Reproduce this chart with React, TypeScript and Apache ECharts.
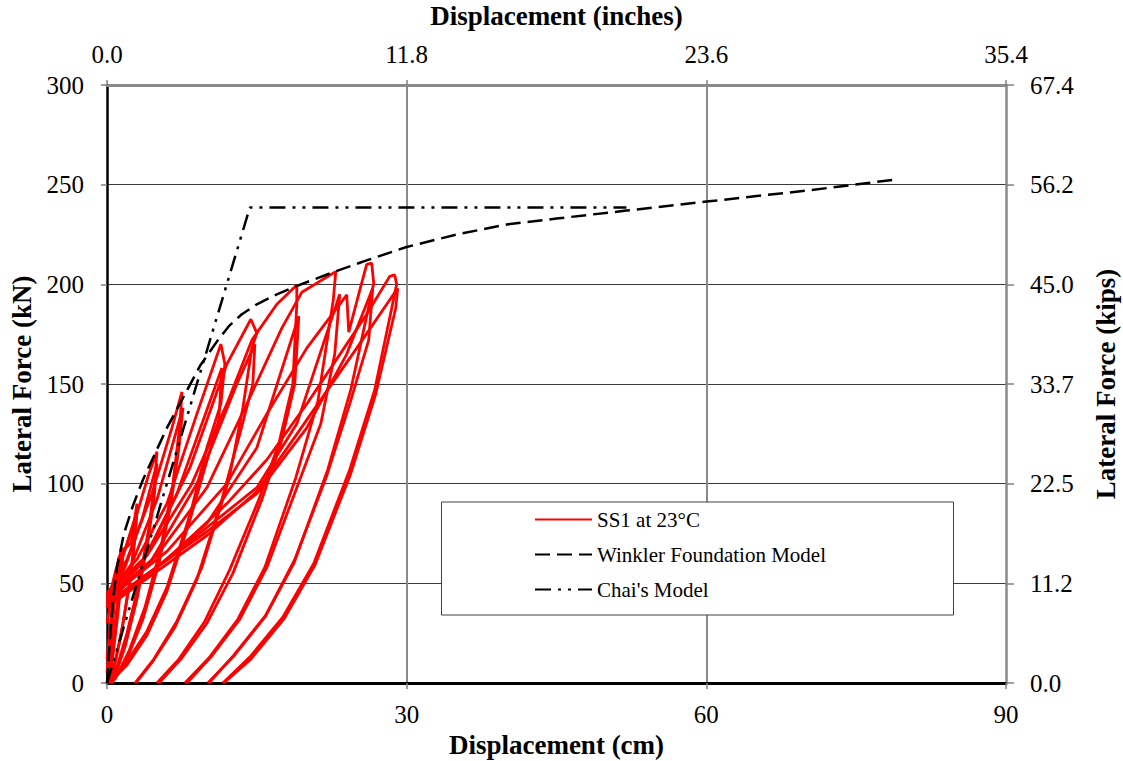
import React, { useEffect, useRef } from "react";
import * as echarts from "echarts";

// ---- Axis ticks ----
const dispTicksCm = [0, 30, 60, 90];
const forceTicksKn = [0, 50, 100, 150, 200, 250, 300];
const CM_PER_INCH = 2.54;
const KN_PER_KIP = 4.448;

// ---- Winkler Foundation Model ----
const winklerDisp = [0, 0.3, 0.6, 1, 1.7, 2.6, 3.6, 4.8, 6, 7.5, 9.3, 11.1, 12.2, 13.5, 15, 17, 18.9, 22.8, 26, 29.9, 35, 40, 45, 52, 60, 70, 78.7];
const winklerForce = [0, 22, 42, 58, 75, 89, 102, 115, 128, 142, 159, 172, 179, 185, 190, 195, 199, 206.4, 212, 218.6, 225, 230, 233, 237, 241.5, 247, 252.4];

// ---- Chai's Model ----
const chaiDisp = [0, 14.3, 52];
const chaiForce = [0, 238.5, 238.5];

// ---- SS1 at 23°C, cyclic test (first quadrant shown), one list per cycle: [cm, kN] ----
const ss1Cycle01 = [[0, 5], [0.4, 30], [0.8, 46], [0.7, 38], [0.4, 18], [0.1, 0]];
const ss1Cycle02 = [[0, 12], [0.5, 38], [1.0, 56], [1.5, 68], [1.4, 58], [1.0, 38], [0.5, 16], [0.2, 0]];
const ss1Cycle03 = [[0, 30], [0.6, 48], [1.2, 63], [1.6, 66], [1.5, 55], [1.1, 35], [0.6, 14], [0.3, 0]];
const ss1Cycle04 = [[0, 38], [0.8, 55], [1.4, 66], [2.4, 70], [3.0, 90], [2.9, 80], [2.4, 55], [1.6, 30], [0.9, 12], [0.4, 0]];
const ss1Cycle05 = [[0, 40], [1.0, 55], [2.0, 70], [3.0, 86], [2.8, 72], [2.2, 48], [1.4, 24], [0.7, 8], [0.4, 0]];
const ss1Cycle06 = [[0, 42], [1.5, 62], [3.0, 85], [4.2, 105], [5.0, 116], [4.8, 102], [4.2, 78], [3.2, 50], [2.0, 25], [1.0, 8], [0.5, 0]];
const ss1Cycle07 = [[0, 40], [1.8, 58], [3.5, 82], [5.0, 110], [4.7, 92], [4.0, 68], [3.0, 42], [1.8, 18], [0.9, 5], [0.5, 0]];
const ss1Cycle08 = [[0, 44], [2.0, 62], [4.5, 95], [6.5, 128], [7.5, 146], [7.3, 130], [6.6, 100], [5.4, 68], [3.8, 38], [2.2, 16], [1.0, 4], [0.4, 0]];
const ss1Cycle09 = [[0, 42], [2.5, 60], [5.0, 92], [7.6, 138], [7.2, 118], [6.4, 90], [5.2, 60], [3.6, 32], [2.0, 12], [0.8, 2], [0.4, 0]];
const ss1Cycle10 = [[0, 45], [3.0, 62], [6.0, 90], [9.0, 135], [11.4, 170], [11.8, 160], [11.4, 140], [10, 118], [8.4, 86], [6, 48], [4, 26], [1.9, 10], [0.1, 0]];
const ss1Cycle11 = [[0, 42], [3.5, 60], [7.0, 95], [11.5, 158], [11.2, 132], [9.8, 108], [8.2, 80], [6, 46], [4, 24], [2, 9], [0.2, 0]];
const ss1Cycle12 = [[0, 44], [4, 64], [8.3, 108], [12, 160], [14.4, 182.5], [15.0, 175.5], [14.5, 168], [13.6, 138], [12.2, 102], [9.5, 58], [7.0, 31], [4.7, 12], [2.8, 0]];
const ss1Cycle13 = [[0, 40], [4.5, 62], [9, 100], [13, 150], [14.8, 170], [14.6, 150], [13.3, 125], [11.5, 92], [9, 52], [6.8, 28], [4.6, 11], [2.9, 0]];
const ss1Cycle14 = [[0, 45], [4, 64], [8.5, 100], [12, 140], [14.5, 172], [17, 190], [19, 199.7], [19, 190], [18.6, 150], [17.2, 120], [15.2, 92], [12.3, 57], [9.8, 31], [7.2, 12], [5.0, 0]];
const ss1Cycle15 = [[0, 38], [5, 58], [10, 80], [15, 118], [19.2, 184], [18.8, 150], [17.4, 120], [15.5, 92], [12.6, 55], [10, 30], [7.4, 12], [5.2, 0]];
const ss1Cycle16 = [[0, 42], [5, 64], [10, 98], [14, 140], [17.5, 178], [19.5, 196], [22.9, 206.4], [22.65, 192], [21.1, 141], [18.9, 103], [15.8, 58], [13.1, 32], [10.2, 12.5], [7.8, 0]];
const ss1Cycle17 = [[0, 38], [5, 58], [10, 78], [15, 98], [19, 130], [23.3, 195], [22.8, 165], [21.4, 130], [19, 98], [16, 58], [13.3, 32], [10.4, 13], [8, 0]];
const ss1Cycle18 = [[0, 42], [6, 66], [12, 100], [16, 135], [20, 168], [24, 194.7], [24.2, 176], [25.3, 197], [26, 210], [26.5, 210.6], [26.7, 200.5], [24.4, 147], [22.1, 107], [18.7, 60], [15.8, 33], [12.6, 13], [10.1, 0]];
const ss1Cycle19 = [[0, 40], [5, 58], [10, 76], [15, 95], [20, 128], [24, 165], [26.6, 198], [26.2, 172], [24.3, 140], [22, 104], [18.8, 62], [15.9, 34], [12.7, 14], [10.2, 0]];
const ss1Cycle20 = [[0, 40], [6, 62], [12, 90], [16, 112], [20, 140], [24, 170], [26, 185], [28.3, 204], [28.8, 204.7], [29, 200], [26.8, 147], [24.3, 107], [20.7, 60], [17.6, 33], [14.3, 13], [11.6, 0]];
const ss1Cycle21 = [[0, 38], [5, 56], [10, 74], [15, 96], [20, 132], [25, 168], [29.1, 198], [28.9, 188], [26.9, 145], [24.4, 105], [20.8, 59], [17.7, 32], [14.4, 12], [11.7, 0]];

const ss1Cycles = [
  ss1Cycle01, ss1Cycle02, ss1Cycle03, ss1Cycle04, ss1Cycle05, ss1Cycle06, ss1Cycle07,
  ss1Cycle08, ss1Cycle09, ss1Cycle10, ss1Cycle11, ss1Cycle12, ss1Cycle13, ss1Cycle14,
  ss1Cycle15, ss1Cycle16, ss1Cycle17, ss1Cycle18, ss1Cycle19, ss1Cycle20, ss1Cycle21,
];

const SS1_NAME = "SS1 at 23°C";
const WINKLER_NAME = "Winkler Foundation Model";
const CHAI_NAME = "Chai's Model";

const FONT = "'Liberation Serif', 'Times New Roman', serif";

export default function App() {
  const ref = useRef<HTMLDivElement>(null);

  useEffect(() => {
    if (!ref.current) return;
    const chart = echarts.init(ref.current, undefined, { renderer: "svg" });

    const titleStyle = { fontFamily: FONT, fontSize: 27, fontWeight: "bold" as const, color: "#000" };
    const labelStyle = { fontFamily: FONT, fontSize: 25, color: "#000" };

    const ss1Series = ss1Cycles.map((cyc) => ({
      type: "line",
      name: SS1_NAME,
      data: cyc,
      showSymbol: false,
      symbol: "none",
      clip: true,
      lineStyle: { color: "#ff0000", width: 2.8 },
      itemStyle: { color: "#ff0000" },
      z: 3,
    }));

    const option: any = {
      animation: false,
      backgroundColor: "#fff",
      textStyle: { fontFamily: FONT },
      grid: { left: 107, right: 117, top: 85, bottom: 78, containLabel: false, outerBoundsMode: "none" },
      legend: {
        data: [SS1_NAME, WINKLER_NAME, CHAI_NAME],
        orient: "vertical",
        left: 529,
        top: 504,
        itemWidth: 57,
        itemHeight: 14,
        itemGap: 14,
        itemStyle: { opacity: 0 },
        lineStyle: { width: 2 },
        textStyle: { fontFamily: FONT, fontSize: 21, color: "#000" },
        z: 60,
        selectedMode: false,
      },
      graphic: [
        {
          type: "rect",
          z: 50,
          shape: { x: 441.5, y: 502, width: 512, height: 113 },
          style: { fill: "#fff", stroke: "#404040", lineWidth: 1 },
        },
      ],
      xAxis: [
        {
          type: "value",
          position: "bottom",
          min: dispTicksCm[0],
          max: dispTicksCm[dispTicksCm.length - 1],
          interval: 30,
          name: "Displacement (cm)",
          nameLocation: "middle",
          nameGap: 47,
          nameTextStyle: titleStyle,
          axisLine: { show: true, onZero: false, lineStyle: { color: "#000", width: 3 } },
          axisTick: { show: true, length: 6, lineStyle: { color: "#808080", width: 1.5 } },
          axisLabel: { ...labelStyle, margin: 19 },
          splitLine: { show: true, showMinLine: false, showMaxLine: false, lineStyle: { color: "#8a8a8a", width: 2 } },
        },
        {
          type: "value",
          position: "top",
          min: dispTicksCm[0],
          max: dispTicksCm[dispTicksCm.length - 1],
          interval: 30,
          name: "Displacement (inches)",
          nameLocation: "middle",
          nameGap: 56,
          nameTextStyle: titleStyle,
          axisLine: { show: true, onZero: false, lineStyle: { color: "#8a8a8a", width: 3 } },
          axisTick: { show: true, length: 5, lineStyle: { color: "#808080", width: 1.5 } },
          axisLabel: { ...labelStyle, margin: 18, formatter: (v: number) => (v / CM_PER_INCH).toFixed(1) },
          splitLine: { show: false },
        },
      ],
      yAxis: [
        {
          type: "value",
          position: "left",
          min: forceTicksKn[0],
          max: forceTicksKn[forceTicksKn.length - 1],
          interval: 50,
          name: "Lateral Force (kN)",
          nameLocation: "middle",
          nameRotate: 90,
          nameGap: 68,
          nameTextStyle: titleStyle,
          axisLine: { show: true, onZero: false, lineStyle: { color: "#000", width: 2.5 } },
          axisTick: { show: true, length: 6, lineStyle: { color: "#808080", width: 1.5 } },
          axisLabel: { ...labelStyle, margin: 23 },
          splitLine: { show: true, showMinLine: false, showMaxLine: false, lineStyle: { color: "#3a3a3a", width: 1.2 } },
        },
        {
          type: "value",
          position: "right",
          min: forceTicksKn[0],
          max: forceTicksKn[forceTicksKn.length - 1],
          interval: 50,
          name: "Lateral Force (kips)",
          nameLocation: "middle",
          nameRotate: 90,
          nameGap: 86,
          nameTextStyle: titleStyle,
          axisLine: { show: true, onZero: false, lineStyle: { color: "#8a8a8a", width: 2.5 } },
          axisTick: { show: true, length: 8, lineStyle: { color: "#808080", width: 1.5 } },
          axisLabel: { ...labelStyle, margin: 24, formatter: (v: number) => (v / KN_PER_KIP).toFixed(1) },
          splitLine: { show: false },
        },
      ],
      series: [
        ...ss1Series,
        {
          type: "line",
          name: WINKLER_NAME,
          data: winklerDisp.map((d, i) => [d, winklerForce[i]]),
          showSymbol: false,
          symbol: "none",
          lineStyle: { color: "#000", width: 2.5, type: [15, 7] },
          itemStyle: { color: "#000" },
          z: 4,
        },
        {
          type: "line",
          name: CHAI_NAME,
          data: chaiDisp.map((d, i) => [d, chaiForce[i]]),
          showSymbol: false,
          symbol: "none",
          lineStyle: { color: "#000", width: 2.5, type: [16, 7, 3, 7, 3, 7] },
          itemStyle: { color: "#000" },
          z: 4,
        },
      ],
    };

    chart.setOption(option);
    return () => chart.dispose();
  }, []);

  return (
    <div
      ref={ref}
      style={{ position: "absolute", left: 0, top: 0, width: 1123, height: 761, background: "#fff" }}
    />
  );
}
